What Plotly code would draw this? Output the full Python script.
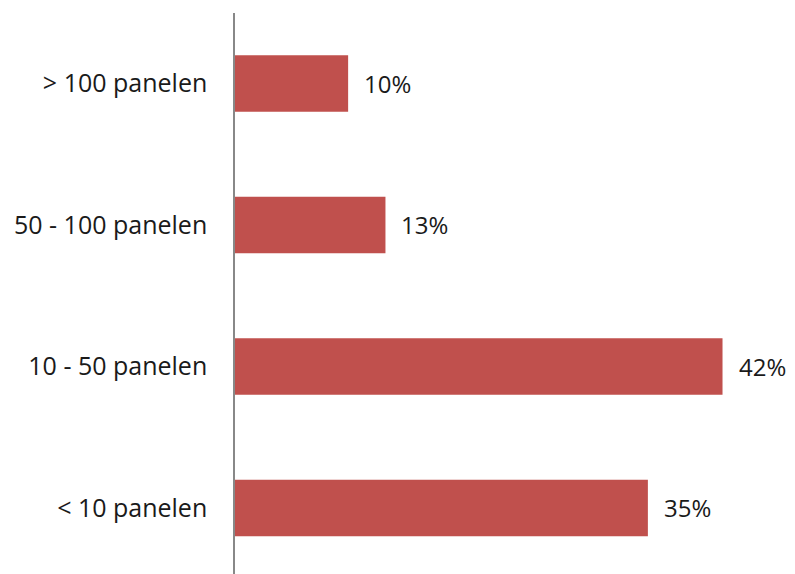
import plotly.graph_objects as go

categories = ["< 10 panelen", "10 - 50 panelen", "50 - 100 panelen", "> 100 panelen"]
values = [35.4, 41.8, 12.9, 9.7]
labels = ["35%", "42%", "13%", "10%"]

FONT = "Open Sans"
fig = go.Figure(go.Bar(
    y=categories, x=values, orientation="h",
    marker=dict(color="#C0504D", line=dict(width=0)),
    width=0.4, hoverinfo="skip",
))
for c, v, t in zip(categories, values, labels):
    fig.add_annotation(x=v, y=c, text=t, showarrow=False, xanchor="left",
                       xshift=14, font=dict(family=FONT, size=24, color="#1a1a1a"))

fig.update_layout(
    width=795, height=574,
    margin=dict(l=227, r=0, t=5, b=0),
    paper_bgcolor="white", plot_bgcolor="white",
    showlegend=False,
    xaxis=dict(range=[0, 48.7], visible=False, fixedrange=True),
    yaxis=dict(range=[-0.523, 3.498], showline=True, linecolor="#888888", linewidth=1.5,
               showgrid=False, zeroline=False, ticks="", ticklabelstandoff=21,
               tickfont=dict(family=FONT, size=25, color="#1a1a1a")),
)
fig.write_html("out.html")
